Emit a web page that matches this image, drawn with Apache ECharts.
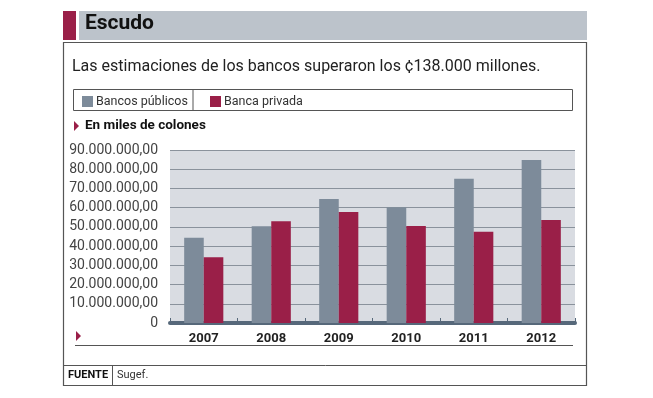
<!DOCTYPE html>
<html><head><meta charset="utf-8">
<script src="https://cdn.jsdelivr.net/npm/echarts@6/dist/echarts.min.js"></script>
<style>html,body{margin:0;padding:0;background:#fff}#c{width:653px;height:398px}</style>
</head><body><div id="c"></div>
<script>
var categories = ['2007','2008','2009','2010','2011','2012'];
var publicos = [44400000, 50300000, 64500000, 60200000, 75100000, 84800000];
var privada = [34200000, 52900000, 57800000, 50500000, 47500000, 53600000];
var seriesNames = ['Bancos públicos', 'Banca privada'];
var yTicks = [0, 10000000, 20000000, 30000000, 40000000, 50000000, 60000000, 70000000, 80000000, 90000000];

var cPub = '#7d8b9a', cPriv = '#9a1f48';
var font2 = '"Roboto","Liberation Sans",sans-serif';

function fmt(v){
  if (v === 0) return '0';
  var s = String(Math.round(v)).replace(/\B(?=(\d{3})+(?!\d))/g, '.');
  return s + ',00';
}

var chart = echarts.init(document.getElementById('c'));
chart.setOption({
  animation: false,
  backgroundColor: '#fff',
  grid: {left: 170, right: 78, top: 150, bottom: 75, show: true, backgroundColor: '#d9dce2', borderWidth: 0},
  legend: [
    {data: [seriesNames[0]], left: 77, top: 90, itemWidth: 11, itemHeight: 11, itemGap: 0, icon: 'rect',
     textStyle: {fontFamily: font2, fontSize: 12.5, color: '#333', padding: [0, 0, 0, -2]}},
    {data: [seriesNames[1]], left: 205, top: 90, itemWidth: 11, itemHeight: 11, itemGap: 0, icon: 'rect',
     textStyle: {fontFamily: font2, fontSize: 12.5, color: '#333', padding: [0, 0, 0, -2]}}
  ],
  xAxis: {
    type: 'category', data: categories,
    axisLine: {lineStyle: {color: '#56687a', width: 4}},
    axisTick: {show: true, inside: true, length: 5, lineStyle: {color: '#56687a', width: 1}},
    axisLabel: {fontFamily: font2, fontWeight: 'bold', fontSize: 13, color: '#222', margin: 9}
  },
  yAxis: {
    type: 'value', min: 0, max: 90000000, interval: 10000000,
    axisLine: {show: false}, axisTick: {show: false},
    splitLine: {lineStyle: {color: '#8a929c', width: 1}},
    axisLabel: {fontFamily: font2, fontSize: 14, color: '#444', margin: 12,
      formatter: function(v){ return yTicks.indexOf(v) >= 0 ? fmt(v) : ''; }}
  },
  series: [
    {name: seriesNames[0], type: 'bar', data: publicos, itemStyle: {color: cPub}, barGap: '0%', barCategoryGap: '42%'},
    {name: seriesNames[1], type: 'bar', data: privada, itemStyle: {color: cPriv}, barGap: '0%', barCategoryGap: '42%'}
  ],
  graphic: [
    {type: 'rect', shape: {x: 63, y: 11, width: 13, height: 29}, style: {fill: '#9a1f48'}},
    {type: 'rect', shape: {x: 79, y: 11, width: 508, height: 29}, style: {fill: '#bcc3cb'}},
    {type: 'text', left: 85, top: 13, style: {text: 'Escudo', font: 'bold 21px ' + font2, fill: '#111'}},
    {type: 'rect', shape: {x: 63.5, y: 42.5, width: 523, height: 343}, style: {fill: 'none', stroke: '#555', lineWidth: 1.2}},
    {type: 'text', left: 72, top: 59, style: {text: 'Las estimaciones de los bancos superaron los ¢138.000 millones.', font: '16px ' + font2, fill: '#222'}},
    {type: 'rect', shape: {x: 73.5, y: 89.5, width: 499, height: 21}, style: {fill: 'none', stroke: '#555', lineWidth: 1}},
    {type: 'line', shape: {x1: 193, y1: 90, x2: 193, y2: 110}, style: {stroke: '#555', lineWidth: 1}},
    {type: 'polygon', shape: {points: [[74, 121], [79, 126], [74, 131]]}, style: {fill: '#9a1f48'}},
    {type: 'text', left: 85, top: 119, style: {text: 'En miles de colones', font: 'bold 13.5px ' + font2, fill: '#111'}},
    {type: 'polygon', shape: {points: [[76, 331], [81, 336], [76, 341]]}, style: {fill: '#9a1f48'}},
    {type: 'line', shape: {x1: 75, y1: 345.5, x2: 573, y2: 345.5}, style: {stroke: '#555', lineWidth: 1}},
    {type: 'line', shape: {x1: 64, y1: 365.5, x2: 587, y2: 365.5}, style: {stroke: '#555', lineWidth: 1}},
    {type: 'line', shape: {x1: 112.5, y1: 366, x2: 112.5, y2: 385}, style: {stroke: '#555', lineWidth: 1}},
    {type: 'text', left: 68, top: 370, style: {text: 'FUENTE', font: 'bold 11px ' + font2, fill: '#111'}},
    {type: 'text', left: 117, top: 370, style: {text: 'Sugef.', font: '11px ' + font2, fill: '#333'}}
  ]
});
</script>
</body></html>
